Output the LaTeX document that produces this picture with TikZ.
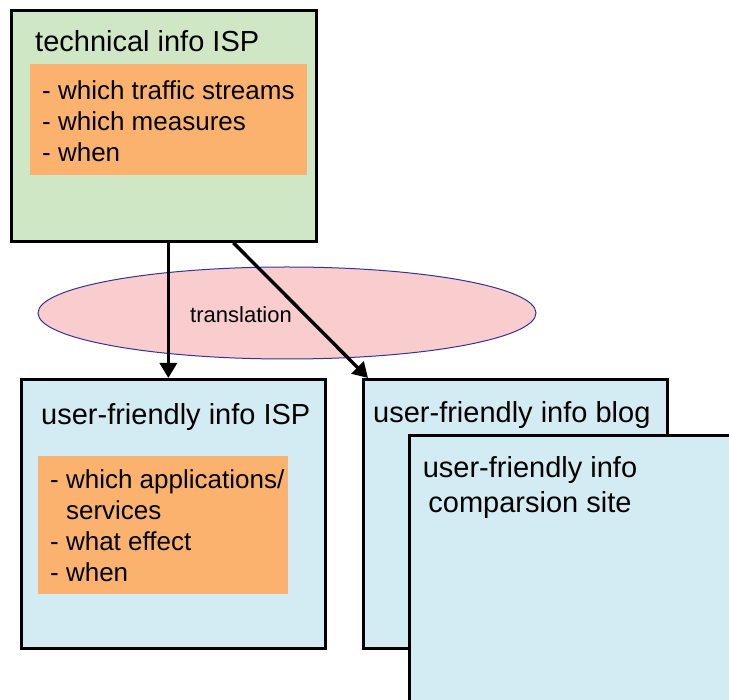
\documentclass[tikz,border=0pt]{standalone}
\usepackage{fontspec}
\setmainfont{Liberation Sans}
\usepackage{tikz}
\usetikzlibrary{arrows.meta, shapes.geometric}
\usepackage{xcolor}
\definecolor{techgreen}{RGB}{208,231,198}
\definecolor{listorange}{RGB}{251,178,111}
\definecolor{userblue}{RGB}{211,235,242}
\definecolor{transpink}{RGB}{249,204,205}
\definecolor{transborder}{RGB}{51,51,153}
\tikzset{%
	info box/.style={
		rectangle,
		draw=black,
		line width=2.7pt,
		anchor=north west,
		inner sep=0pt
	},
	point box/.style={
		rectangle,
		fill=listorange,
		anchor=north west,
		inner sep=0pt
	},
	box title/.style={
		anchor=base west,
		inner sep=0pt,
		font=\fontsize{29}{35}\selectfont
	},
	point list/.style={
		anchor=north west,
		inner sep=0pt,
		align=left,
		font=\fontsize{26}{31}\selectfont
	},
	flow arrow/.style={
		line width=3.4pt,
		-{Triangle[length=15pt,width=17pt]}
	},
}
\begin{document}
\begin{tikzpicture}[x=1pt, y=-1pt]
			\clip (0,0) rectangle (729,700);
			
			\node[info box, fill=techgreen, minimum width=305pt, minimum height=231pt] (tech) at (10,9) {};
			\node[box title] (techtitle) at (35,52) {technical info ISP};
			\node[point box, minimum width=277pt, minimum height=111pt] (techpoints) at (30,64) {};
			\node[point list] (techlist) at (42,80) {- which traffic streams\\- which measures\\- when};
			
			\node[ellipse, draw=transborder, line width=1pt, fill=transpink, minimum width=498pt, minimum height=92pt] (transl) at (287,313) {};
			\node[inner sep=0pt, font=\fontsize{22}{26}\selectfont] (transltext) at (241,315) {translation};
			
			\node[info box, fill=userblue, minimum width=304pt, minimum height=269pt] (userisp) at (20,378) {};
			\node[box title] (ispt) at (41,425) {user-friendly info ISP};
			\node[point box, minimum width=250pt, minimum height=138pt] (isppoints) at (38,456) {};
			\node[point list] (isplist) at (50,469) {- which applications/\\\phantom{- }services\\- what effect\\- when};
			
			\node[info box, fill=userblue, minimum width=304pt, minimum height=269pt] (blog) at (362,378) {};
			\node[box title] (blogtitle) at (373,423) {user-friendly info blog};
			
			\node[info box, fill=userblue, minimum width=360pt, minimum height=330pt] (compare) at (408,434) {};
			\node[box title, anchor=north, align=center] (comparetitle) at (530,456) {user-friendly info\\comparsion site};
			
			\draw[flow arrow] ([xshift=4.5pt]tech.south) -- ([xshift=-5pt]userisp.north);
			\draw[flow arrow] ([xshift=69.5pt]tech.south) -- ([xshift=6pt]blog.north west);
\end{tikzpicture}
\end{document}
